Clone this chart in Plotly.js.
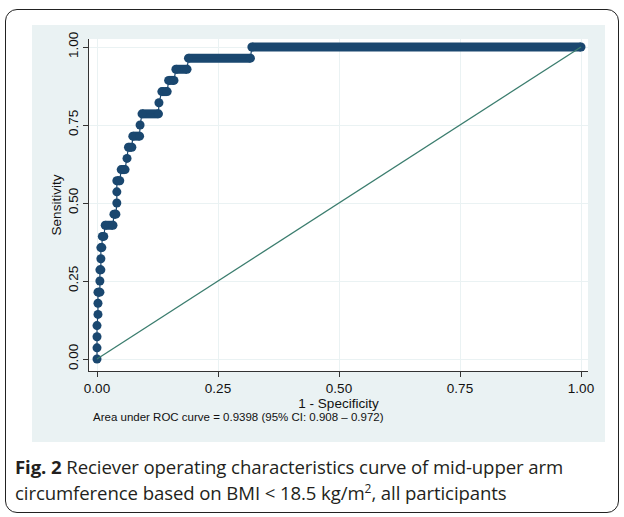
<!DOCTYPE html>
<html>
<head>
<meta charset="utf-8">
<script src="https://cdn.plot.ly/plotly-3.0.1.min.js"></script>
<style>
  html, body { margin: 0; padding: 0; background: #ffffff; width: 624px; height: 517px; overflow: hidden; }
  #frame { position: absolute; left: 5px; top: 9px; width: 612px; height: 502px; border: 1.5px solid #222; border-radius: 12px; }
  #chart { position: absolute; left: 32px; top: 25px; width: 573px; height: 417px; }
  .cap { position: absolute; left: 15px; font-family: 'Open Sans', 'Noto Sans', sans-serif; font-size: 18.6px; color: #231f20; white-space: nowrap; letter-spacing: -0.1px; }
</style>
</head>
<body>
<div id="frame"></div>
<div id="chart"></div>
<div class="cap" style="top:454px;"><b>Fig. 2</b> Reciever operating characteristics curve of mid-upper arm</div>
<div class="cap" style="top:480px;">circumference based on BMI &lt; 18.5 kg/m<sup style="font-size:12px;">2</sup>, all participants</div>
<script>
// ROC points (1 - specificity, sensitivity)
const oneMinusSpec = [0.000, 0.000, 0.000, 0.000, 0.002, 0.002, 0.002, 0.006, 0.006, 0.006, 0.008, 0.008, 0.008, 0.010,
  0.011, 0.014, 0.017, 0.033, 0.035, 0.039, 0.041, 0.041, 0.041, 0.047, 0.050, 0.058, 0.062, 0.065, 0.072,
  0.074, 0.088, 0.089, 0.093, 0.127, 0.128, 0.134, 0.145, 0.148, 0.159, 0.163, 0.186, 0.189, 0.317, 0.320, 1.000];
const sensitivity = [0.0000, 0.0357, 0.0714, 0.1071, 0.1429, 0.1786, 0.2143, 0.2143, 0.2500, 0.2857, 0.2857, 0.3214, 0.3571, 0.3571,
  0.3929, 0.3929, 0.4286, 0.4286, 0.4643, 0.4643, 0.5000, 0.5357, 0.5714, 0.5714, 0.6071, 0.6071, 0.6429, 0.6786, 0.6786,
  0.7143, 0.7143, 0.7500, 0.7857, 0.7857, 0.8214, 0.8571, 0.8571, 0.8929, 0.8929, 0.9286, 0.9286, 0.9643, 0.9643, 1.0000, 1.0000];
// reference line
const refX = [0, 1];
const refY = [0, 1];
const tickVals = [0, 0.25, 0.5, 0.75, 1];
const tickText = ['0.00', '0.25', '0.50', '0.75', '1.00'];
const aucNote = 'Area under ROC curve = 0.9398 (95% CI: 0.908 \u2013 0.972)';

const navy = '#1a476f';
// horizontal runs drawn thick (built from the data arrays)
const runX = [], runY = [];
for (let i = 0; i < oneMinusSpec.length - 1; i++) {
  if (sensitivity[i] === sensitivity[i + 1] && oneMinusSpec[i] !== oneMinusSpec[i + 1]) {
    runX.push(oneMinusSpec[i], oneMinusSpec[i + 1], null);
    runY.push(sensitivity[i], sensitivity[i + 1], null);
  }
}

const traces = [
  { x: runX, y: runY, mode: 'lines', line: { color: navy, width: 9 }, hoverinfo: 'skip', showlegend: false, connectgaps: false },
  { x: oneMinusSpec, y: sensitivity, mode: 'lines+markers', line: { color: navy, width: 1.2 },
    marker: { color: navy, size: 9 }, showlegend: false },
  { x: refX, y: refY, mode: 'lines', line: { color: '#3b7d6e', width: 1.3 }, showlegend: false }
];

const axisCommon = {
  tickvals: tickVals, ticktext: tickText,
  showgrid: true, gridcolor: '#eaf2f3', gridwidth: 1,
  zeroline: false, showline: true, linecolor: '#333333', linewidth: 1,
  ticks: 'outside', ticklen: 5, tickcolor: '#333333', tickwidth: 1,
  tickfont: { family: 'Liberation Sans, Arial, sans-serif', size: 13.5, color: '#111111' },
  fixedrange: true
};

const layout = {
  width: 573, height: 417,
  margin: { l: 57, r: 17, t: 14, b: 71 },
  paper_bgcolor: '#eaf2f3', plot_bgcolor: '#ffffff',
  showlegend: false,
  xaxis: Object.assign({}, axisCommon, {
    range: [-0.01653, 1.01446],
    title: { text: '1 - Specificity', standoff: 0, font: { family: 'Liberation Sans, Arial, sans-serif', size: 13.5, color: '#111111' } }
  }),
  yaxis: Object.assign({}, axisCommon, {
    range: [-0.03846, 1.02564], tickangle: -90,
    title: { text: 'Sensitivity', standoff: 0, font: { family: 'Liberation Sans, Arial, sans-serif', size: 13.5, color: '#111111' } }
  }),
  annotations: [{
    text: aucNote, xref: 'paper', yref: 'paper', x: 0.004, y: -0.1386,
    xanchor: 'left', yanchor: 'middle', showarrow: false,
    font: { family: 'Liberation Sans, Arial, sans-serif', size: 11.5, color: '#111111' }
  }]
};

Plotly.newPlot('chart', traces, layout, { displayModeBar: false, staticPlot: true });
</script>
</body>
</html>
